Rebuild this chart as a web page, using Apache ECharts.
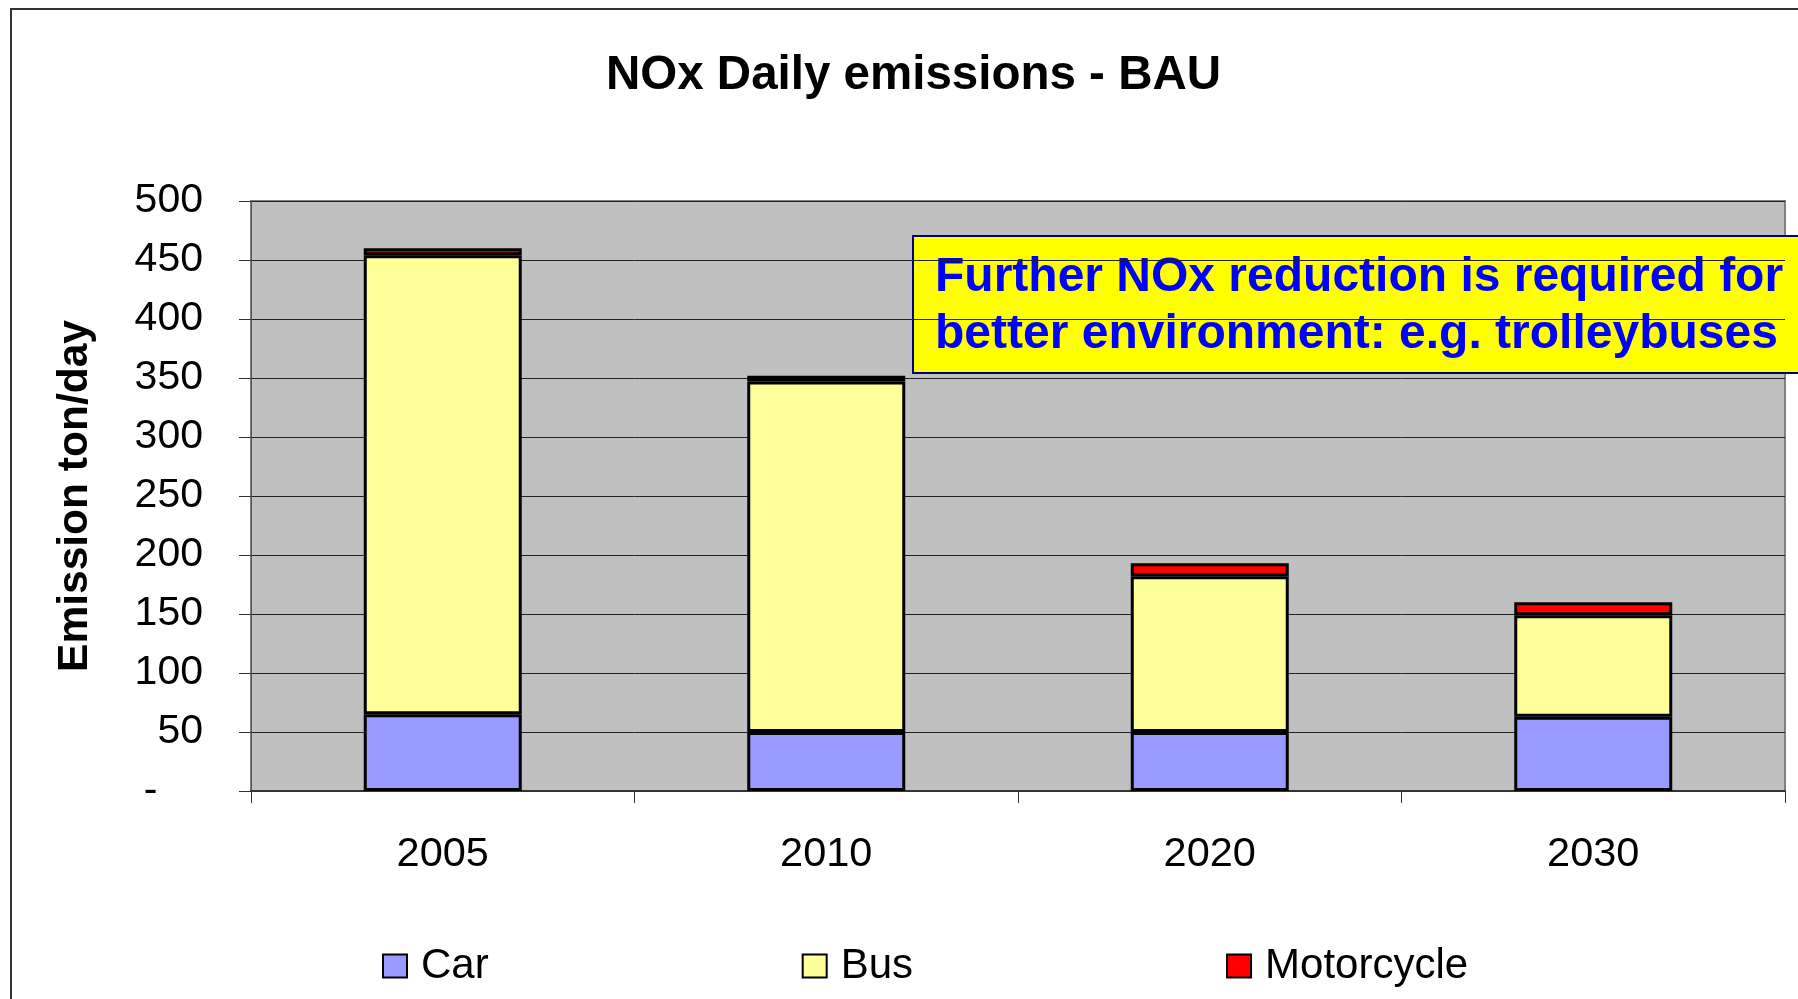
<!DOCTYPE html>
<html>
<head>
<meta charset="utf-8">
<title>NOx Daily emissions - BAU</title>
<script src="https://cdn.jsdelivr.net/npm/echarts@6/dist/echarts.min.js"></script>
<style>
  html, body { margin: 0; padding: 0; background: #fff; }
  #chart { width: 1798px; height: 999px; }
</style>
</head>
<body>
<div id="chart"></div>
<script>
// chart data
var years = ['2005', '2010', '2020', '2030']
var car = [65, 50, 50, 63]
var bus = [389, 297, 132, 86]
var motorcycle = [6, 5, 11, 11]
var yTicks = [0, 50, 100, 150, 200, 250, 300, 350, 400, 450, 500]

var font = '"Liberation Sans", Arial, sans-serif'
var note = ['Further NOx reduction is required for', 'better environment: e.g. trolleybuses']

function barSeries(name, data, color) {
  return {
    name: name,
    type: 'bar',
    stack: 'total',
    barWidth: 158,
    data: data,
    itemStyle: { color: color, borderColor: '#000', borderWidth: 3 }
  }
}

var chart = echarts.init(document.getElementById('chart'))
chart.setOption({
  animation: false,
  backgroundColor: '#fff',
  textStyle: { fontFamily: font },
  title: {
    text: 'NOx Daily emissions - BAU',
    left: 606,
    top: 52,
    padding: 0,
    textStyle: { fontFamily: font, fontSize: 47.5, fontWeight: 'bold', color: '#000' }
  },
  grid: {
    left: 251,
    right: 13,
    top: 201,
    bottom: 208,
    show: true,
    backgroundColor: '#C0C0C0',
    borderColor: '#808080',
    borderWidth: 2
  },
  legend: {
    left: 377,
    top: 940,
    itemWidth: 24,
    itemHeight: 23,
    itemGap: 313,
    icon: 'rect',
    itemStyle: { borderColor: '#000', borderWidth: 2 },
    textStyle: { fontFamily: font, fontSize: 42, color: '#000', padding: [0, 0, 0, 9] },
    data: ['Car', 'Bus', 'Motorcycle']
  },
  xAxis: {
    type: 'category',
    data: years,
    axisLine: { lineStyle: { color: '#333', width: 2 } },
    axisTick: { show: true, length: 12, lineStyle: { color: '#333', width: 1 } },
    axisLabel: { fontFamily: font, fontSize: 41.5, color: '#000', margin: 43 }
  },
  yAxis: {
    type: 'value',
    min: yTicks[0],
    max: yTicks[yTicks.length - 1],
    interval: yTicks[1] - yTicks[0],
    name: 'Emission ton/day',
    nameLocation: 'middle',
    nameGap: 154,
    nameTextStyle: { fontFamily: font, fontSize: 42.5, fontWeight: 'bold', color: '#000' },
    axisLine: { show: true, lineStyle: { color: '#555', width: 1 } },
    axisTick: { show: true, length: 12, lineStyle: { color: '#333' } },
    axisLabel: {
      fontFamily: font,
      fontSize: 41,
      color: '#000',
      margin: 48,
      formatter: function (v) { return v === 0 ? '-    ' : String(v) }
    },
    splitLine: { show: true, lineStyle: { color: '#222', width: 1 } }
  },
  graphic: [
    {
      // outer frame of the picture
      type: 'rect',
      shape: { x: 11, y: 9, width: 2000, height: 2000 },
      style: { fill: 'none', stroke: '#333', lineWidth: 2 },
      silent: true
    },
    {
      type: 'group',
      left: 912,
      top: 235,
      children: [
        {
          type: 'rect',
          shape: { x: 0, y: 0, width: 900, height: 137 },
          style: { fill: '#FFFF00', stroke: '#000080', lineWidth: 2 }
        },
        {
          type: 'text',
          x: 22,
          y: 13,
          style: {
            text: note.join('\n'),
            fontFamily: font,
            fontSize: 48,
            fontWeight: 'bold',
            lineHeight: 57,
            fill: '#0000FF'
          }
        }
      ]
    }
  ],
  series: [
    barSeries('Car', car, '#9999FF'),
    barSeries('Bus', bus, '#FFFF99'),
    barSeries('Motorcycle', motorcycle, '#FF0000')
  ]
})
</script>
</body>
</html>
